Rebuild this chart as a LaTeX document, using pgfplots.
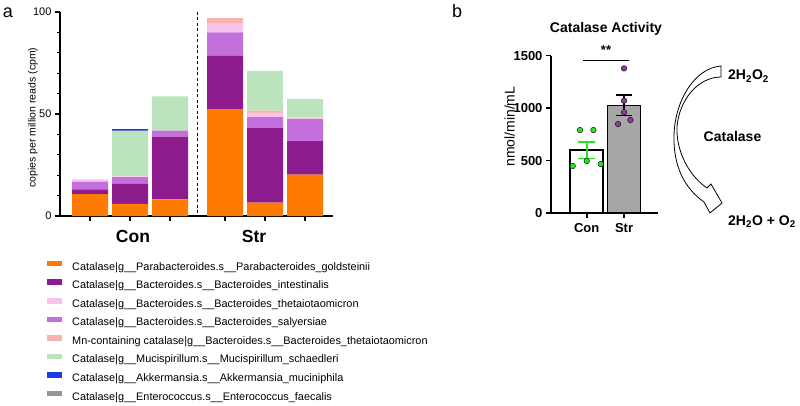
\documentclass[border=0pt]{standalone}
\usepackage{fontspec}
\setmainfont{Liberation Sans}
\usepackage{pgfplots}
\pgfplotsset{compat=1.18}

\definecolor{cOrange}{RGB}{255,122,0}
\definecolor{cPurple}{RGB}{142,27,142}
\definecolor{cSaly}{RGB}{196,112,220}
\definecolor{cTheta}{RGB}{248,196,236}
\definecolor{cMn}{RGB}{248,180,170}
\definecolor{cGreen}{RGB}{188,228,188}
\definecolor{cBlue}{RGB}{30,60,230}
\definecolor{cGray}{RGB}{150,150,150}
\definecolor{cPtGreen}{RGB}{40,225,40}
\definecolor{cPtPurple}{RGB}{145,55,160}
\definecolor{cBarGray}{RGB}{166,166,166}

\begin{document}
\begin{tikzpicture}
\useasboundingbox (0pt,0pt) rectangle (800pt,405pt);

% panel a: stacked bars
\begin{axis}[
    at={(60pt,189pt)}, anchor=south west,
    scale only axis, width=273pt, height=204pt,
    xmin=0.25, xmax=7.075, ymin=0, ymax=100,
    ybar stacked, bar width=0.9,
    axis x line*=bottom, axis y line*=left,
    axis line style={-, line width=1.1pt},
    xtick={1,2,3,4.375,5.375,6.375}, xticklabels={},
    ytick={0,50,100}, minor ytick={10,20,30,40,60,70,80,90},
    tick align=outside, major tick length=5pt, minor tick length=3pt,
    every tick/.style={line width=1.1pt, black},
    /pgf/number format/assume math mode=true,
    yticklabel style={font=\fontsize{11}{12}\selectfont},
    clip=false,
]
\addplot[fill=cOrange, draw=none] coordinates {(1,10.7) (2,5.9) (3,8.2) (4.375,52.4) (5.375,6.6) (6.375,20.3)};
\addplot[fill=cPurple, draw=none] coordinates {(1,2.4) (2,9.9) (3,30.7) (4.375,26.1) (5.375,36.5) (6.375,16.4)};
\addplot[fill=cSaly, draw=none] coordinates {(1,3.7) (2,3.3) (3,2.9) (4.375,11.5) (5.375,5.4) (6.375,10.8)};
\addplot[fill=cTheta, draw=none] coordinates {(1,1.2) (2,0.3) (3,0) (4.375,4.6) (5.375,2.0) (6.375,0.8)};
\addplot[fill=cMn, draw=none] coordinates {(1,0) (2,0) (3,0) (4.375,2.4) (5.375,1.1) (6.375,0)};
\addplot[fill=cGreen, draw=none] coordinates {(1,0) (2,22.4) (3,16.9) (4.375,0) (5.375,19.6) (6.375,9.0)};
\addplot[fill=cBlue, draw=none] coordinates {(1,0) (2,1.0) (3,0) (4.375,0) (5.375,0) (6.375,0)};
\end{axis}

% legend of panel a
\begin{axis}[
    at={(0pt,0pt)}, anchor=south west,
    scale only axis, width=100pt, height=100pt,
    hide axis, xmin=0, xmax=1, ymin=0, ymax=1,
    legend style={at={(0.47,1.443)}, anchor=north west, draw=none, fill=none,
        inner sep=0pt, font=\fontsize{10.9}{12}\selectfont, row sep=6.8pt,
        nodes={inner sep=0pt, text height=8pt, text depth=2.5pt}},
    legend cell align=left,
    legend image code/.code={\fill[#1] (0pt,1pt) rectangle (15pt,6.5pt);},
    /tikz/every odd column/.style={column sep=10pt},
]
\addlegendimage{fill=cOrange, draw=none}
\addlegendentry{Catalase|g\_\_Parabacteroides.s\_\_Parabacteroides\_goldsteinii}
\addlegendimage{fill=cPurple, draw=none}
\addlegendentry{Catalase|g\_\_Bacteroides.s\_\_Bacteroides\_intestinalis}
\addlegendimage{fill=cTheta, draw=none}
\addlegendentry{Catalase|g\_\_Bacteroides.s\_\_Bacteroides\_thetaiotaomicron}
\addlegendimage{fill=cSaly, draw=none}
\addlegendentry{Catalase|g\_\_Bacteroides.s\_\_Bacteroides\_salyersiae}
\addlegendimage{fill=cMn, draw=none}
\addlegendentry{Mn-containing catalase|g\_\_Bacteroides.s\_\_Bacteroides\_thetaiotaomicron}
\addlegendimage{fill=cGreen, draw=none}
\addlegendentry{Catalase|g\_\_Mucispirillum.s\_\_Mucispirillum\_schaedleri}
\addlegendimage{fill=cBlue, draw=none}
\addlegendentry{Catalase|g\_\_Akkermansia.s\_\_Akkermansia\_muciniphila}
\addlegendimage{fill=cGray, draw=none}
\addlegendentry{Catalase|g\_\_Enterococcus.s\_\_Enterococcus\_faecalis}
\end{axis}

% panel b: catalase activity
\begin{axis}[
    at={(551pt,192pt)}, anchor=south west,
    scale only axis, width=107pt, height=157.3pt,
    xmin=0.043, xmax=2.91, ymin=0, ymax=1500,
    axis x line*=bottom, axis y line*=left,
    axis line style={-, line width=1.6pt},
    xtick={1,2}, xticklabels={Con,Str},
    ytick={0,500,1000,1500},
    tick align=outside, major tick length=5pt,
    every tick/.style={line width=1.6pt, black},
    /pgf/number format/assume math mode=true,
    /pgf/number format/1000 sep={},
    tick label style={font=\bfseries\fontsize{13}{14}\selectfont},
    xticklabel style={yshift=-2pt},
    clip=false,
]
\addplot[ybar, bar width=0.885, bar shift=0pt, fill=white, draw=black, line width=1.6pt,
    error bars/.cd, y dir=both, y explicit,
    error bar style={line width=1.6pt, draw=cPtGreen},
    error mark options={rotate=90, line width=1.6pt, draw=cPtGreen, mark size=8.3pt}]
    coordinates {(1,598) +- (0,80)};
\addplot[ybar, bar width=0.885, bar shift=0pt, fill=cBarGray, draw=black, line width=1.6pt,
    error bars/.cd, y dir=both, y explicit,
    error bar style={line width=1.6pt, draw=black},
    error mark options={rotate=90, line width=1.6pt, draw=black, mark size=8.3pt}]
    coordinates {(2,1026) +- (0,97)};
\addplot[only marks, mark=*, mark size=2.8pt, mark options={fill=cPtGreen, draw=none}]
    coordinates {(0.82,791) (1.18,791) (0.625,448) (1.0,496) (1.375,467)};
\addplot[only marks, mark=*, mark size=2.8pt, mark options={fill=cPtPurple, draw=none}]
    coordinates {(2,1379) (2,1071) (2,960) (2.17,887) (1.84,848)};
\end{axis}

% annotations, in pixel coordinates (y downwards)
\begin{scope}[x=1pt, y=-1pt, yshift=405pt]
\draw[line width=1.1pt, dash pattern=on 3pt off 2.5pt] (197.7,12) -- (197.7,216);
\node[anchor=base, font=\fontsize{18}{20}\selectfont, inner sep=0pt] at (8,18) {a};
\node[anchor=base, font=\fontsize{18}{20}\selectfont, inner sep=0pt] at (457,18) {b};
\node[rotate=90, font=\fontsize{10.5}{12}\selectfont, inner sep=0pt] at (33,117.5) {copies per million reads (cpm)};
\node[anchor=base, font=\bfseries\fontsize{17.5}{19}\selectfont, inner sep=0pt] at (133,242) {Con};
\node[anchor=base, font=\bfseries\fontsize{17.5}{19}\selectfont, inner sep=0pt] at (254,242) {Str};

\node[anchor=base, font=\bfseries\fontsize{14}{16}\selectfont, inner sep=0pt] at (606,33) {Catalase Activity};
\node[rotate=90, font=\fontsize{14}{16}\selectfont, inner sep=0pt] at (509.5,126.7) {nmol/min/mL};
\draw[line width=1pt] (583,61) -- (629,61);
\node[anchor=base, font=\bfseries\fontsize{13}{14}\selectfont, inner sep=0pt] at (606,55) {**};

\filldraw[fill=white, draw=black, line width=0.8pt, line join=miter]
    (721,66) -- (721,77)
    .. controls (698,77) and (679,100) .. (677,127)
    .. controls (676,150) and (688,175) .. (707,188)
    -- (711,184) -- (722,203) -- (710,213) -- (704,202)
    .. controls (684,188) and (673,165) .. (674,135)
    .. controls (675,100) and (695,68) .. (721,66) -- cycle;
\node[anchor=base west, font=\bfseries\fontsize{14}{16}\selectfont, inner sep=0pt] at (728,80) {2H\textsubscript{2}O\textsubscript{2}};
\node[anchor=base, font=\bfseries\fontsize{14}{16}\selectfont, inner sep=0pt] at (732.5,142) {Catalase};
\node[anchor=base west, font=\bfseries\fontsize{14}{16}\selectfont, inner sep=0pt] at (728,225) {2H\textsubscript{2}O + O\textsubscript{2}};
\end{scope}
\end{tikzpicture}
\end{document}
